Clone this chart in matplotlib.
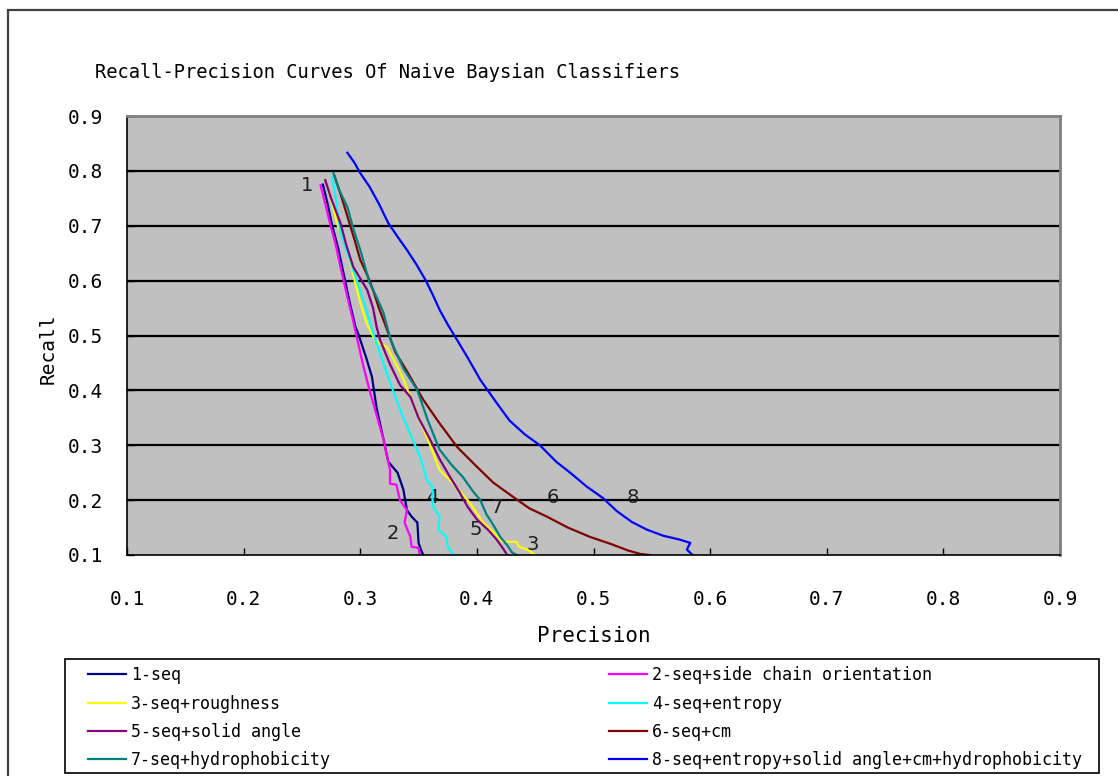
import numpy as np
import matplotlib
matplotlib.use("Agg")
import matplotlib.pyplot as plt
from matplotlib.patches import Rectangle

plt.rcParams['font.family'] = ['DejaVu Sans Mono', 'DejaVu Sans']

# Data ########################################################
labels = ["1-seq", "2-seq+side chain orientation", "3-seq+roughness",
          "4-seq+entropy", "5-seq+solid angle", "6-seq+cm",
          "7-seq+hydrophobicity",
          "8-seq+entropy+solid angle+cm+hydrophobicity"]
colors = ["#000080", "#ff00ff", "#ffff00", "#00ffff",
          "#800080", "#800000", "#008080", "#0000ff"]

p1 = [0.268, 0.272, 0.276, 0.281, 0.286, 0.291, 0.296, 0.298, 0.305, 0.310, 0.314,
      0.320, 0.324, 0.332, 0.337, 0.340, 0.344, 0.349, 0.350, 0.352, 0.354]
r1 = [0.775, 0.740, 0.700, 0.660, 0.610, 0.560, 0.515, 0.505, 0.460, 0.425, 0.368,
      0.310, 0.270, 0.250, 0.219, 0.182, 0.170, 0.159, 0.122, 0.110, 0.100]

p2 = [0.266, 0.270, 0.274, 0.279, 0.283, 0.289, 0.293, 0.297, 0.302, 0.308, 0.314,
      0.320, 0.3255, 0.3255, 0.331, 0.334, 0.340, 0.338, 0.343, 0.344, 0.350, 0.351]
r2 = [0.774, 0.740, 0.705, 0.665, 0.625, 0.570, 0.535, 0.497, 0.450, 0.400, 0.355,
      0.310, 0.255, 0.230, 0.228, 0.200, 0.182, 0.159, 0.133, 0.115, 0.113, 0.100]

p3 = [0.272, 0.276, 0.280, 0.285, 0.289, 0.294, 0.300, 0.306, 0.313, 0.323, 0.335,
      0.351, 0.360, 0.368, 0.380, 0.394, 0.405, 0.415, 0.422, 0.434, 0.436, 0.443, 0.450]
r3 = [0.770, 0.740, 0.705, 0.675, 0.656, 0.610, 0.560, 0.520, 0.490, 0.479, 0.430,
      0.346, 0.300, 0.255, 0.230, 0.195, 0.160, 0.140, 0.124, 0.124, 0.115, 0.110, 0.100]

p4 = [0.276, 0.279, 0.283, 0.290, 0.297, 0.304, 0.311, 0.318, 0.328, 0.336, 0.345,
      0.352, 0.357, 0.362, 0.362, 0.368, 0.367, 0.374, 0.375, 0.380]
r4 = [0.789, 0.750, 0.687, 0.645, 0.601, 0.555, 0.505, 0.460, 0.400, 0.355, 0.310,
      0.275, 0.237, 0.224, 0.190, 0.170, 0.146, 0.133, 0.115, 0.100]

p5 = [0.270, 0.275, 0.283, 0.288, 0.294, 0.306, 0.311, 0.314, 0.317, 0.325, 0.334,
      0.343, 0.350, 0.360, 0.368, 0.377, 0.385, 0.392, 0.400, 0.410, 0.417, 0.423, 0.426]
r5 = [0.783, 0.750, 0.705, 0.665, 0.625, 0.583, 0.550, 0.516, 0.492, 0.450, 0.410,
      0.388, 0.350, 0.310, 0.275, 0.242, 0.215, 0.188, 0.165, 0.145, 0.128, 0.110, 0.100]

p6 = [0.278, 0.282, 0.285, 0.290, 0.295, 0.300, 0.306, 0.311, 0.316, 0.324, 0.330,
      0.340, 0.354, 0.368, 0.383, 0.398, 0.414, 0.431, 0.445, 0.460, 0.478, 0.497,
      0.515, 0.530, 0.540, 0.548]
r6 = [0.790, 0.765, 0.745, 0.710, 0.675, 0.638, 0.610, 0.583, 0.550, 0.505, 0.470,
      0.435, 0.383, 0.340, 0.297, 0.265, 0.232, 0.206, 0.185, 0.170, 0.150, 0.133,
      0.120, 0.108, 0.102, 0.100]

p7 = [0.277, 0.282, 0.289, 0.294, 0.300, 0.308, 0.314, 0.320, 0.326, 0.337, 0.349,
      0.358, 0.368, 0.378, 0.388, 0.397, 0.403, 0.408, 0.414, 0.420, 0.426, 0.430, 0.434]
r7 = [0.796, 0.765, 0.734, 0.695, 0.656, 0.596, 0.570, 0.541, 0.492, 0.440, 0.400,
      0.345, 0.292, 0.265, 0.242, 0.215, 0.200, 0.175, 0.155, 0.133, 0.118, 0.105, 0.100]

p8 = [0.289, 0.295, 0.300, 0.308, 0.316, 0.324, 0.332, 0.340, 0.348, 0.356, 0.362,
      0.368, 0.375, 0.383, 0.392, 0.403, 0.416, 0.428, 0.441, 0.454, 0.468, 0.480,
      0.494, 0.508, 0.520, 0.533, 0.546, 0.560, 0.574, 0.583, 0.580, 0.585]
r8 = [0.833, 0.815, 0.796, 0.771, 0.740, 0.705, 0.680, 0.656, 0.630, 0.601, 0.575,
      0.547, 0.520, 0.492, 0.460, 0.419, 0.380, 0.345, 0.320, 0.300, 0.270, 0.250,
      0.225, 0.204, 0.180, 0.160, 0.146, 0.135, 0.128, 0.122, 0.110, 0.100]

precisions = [p1, p2, p3, p4, p5, p6, p7, p8]
recalls = [r1, r2, r3, r4, r5, r6, r7, r8]

# curve number labels inside the plot
tag_text = ["1", "2", "3", "4", "5", "6", "7", "8"]
tag_x = [0.254, 0.328, 0.448, 0.362, 0.399, 0.465, 0.417, 0.534]
tag_y = [0.774, 0.140, 0.119, 0.204, 0.146, 0.204, 0.186, 0.204]

ticks = [0.1, 0.2, 0.3, 0.4, 0.5, 0.6, 0.7, 0.8, 0.9]

# Figure #######################################################
fig = plt.figure(figsize=(11.18, 7.76), dpi=100)
W, H = 1118, 776
ax = fig.add_axes([127 / W, 1 - 555 / H, (1060 - 127) / W, (555 - 116) / H])
ax.set_facecolor("#c0c0c0")

for y in ticks[1:-1]:
    ax.axhline(y, color="black", lw=1.6, zorder=1)

lines = []
for p, r, c, lab in zip(precisions, recalls, colors, labels):
    ln, = ax.plot(p, r, color=c, lw=1.6, label=lab, zorder=2)
    lines.append(ln)

for t, x, y in zip(tag_text, tag_x, tag_y):
    ax.text(x, y, t, fontsize=14, ha="center", va="center", color="#202020",
            family="DejaVu Sans", zorder=1.5)

ax.set_xlim(0.1, 0.9)
ax.set_ylim(0.1, 0.9)
ax.set_xticks(ticks)
ax.set_yticks(ticks)
ax.set_xticklabels([f"{t:.1f}" for t in ticks])
ax.set_yticklabels([f"{t:.1f}" for t in ticks])
ax.tick_params(axis="x", direction="in", length=5, width=1, pad=25, labelsize=14)
ax.tick_params(axis="y", direction="in", length=5, width=1, pad=17, labelsize=14)
for side in ["left", "bottom"]:
    ax.spines[side].set_color("black")
    ax.spines[side].set_linewidth(1.2)
for side in ["top", "right"]:
    ax.spines[side].set_color("#808080")
    ax.spines[side].set_linewidth(2)

ax.set_xlabel("Precision", fontsize=15)
ax.xaxis.set_label_coords(0.5, -(636 - 555) / 439)
ax.set_ylabel("Recall", fontsize=14)
ax.yaxis.set_label_coords(-(127 - 48) / 933, 0.47)
ax.xaxis.label.set_va("center")
ax.yaxis.label.set_va("center")

fig.text(95 / W, 1 - 73 / H, "Recall-Precision Curves Of Naive Baysian Classifiers",
         fontsize=13.5, ha="left", va="center")

# outer chart border
fig.patches.append(Rectangle((8 / W, -0.1), 2, 1.1 - 10 / H, transform=fig.transFigure,
                             fill=False, edgecolor="#404040", lw=1.6))

# legend frame and entries, row-major order in two columns
fig.patches.append(Rectangle((65 / W, 1 - 773 / H), (1099 - 65) / W, (773 - 659) / H,
                             transform=fig.transFigure, fill=False,
                             edgecolor="black", lw=1.2))
order = [0, 2, 4, 6, 1, 3, 5, 7]
leg = fig.legend([lines[i] for i in order], [labels[i] for i in order],
                 ncol=2, loc="upper left",
                 bbox_to_anchor=(88 / W, 1 - 667 / H, (1082 - 88) / W, 0.001),
                 mode="expand", borderaxespad=0, borderpad=0, fontsize=12,
                 handlelength=2.3, handletextpad=0.3, labelspacing=0.62,
                 frameon=False)

fig.savefig("out.png", dpi=100)
